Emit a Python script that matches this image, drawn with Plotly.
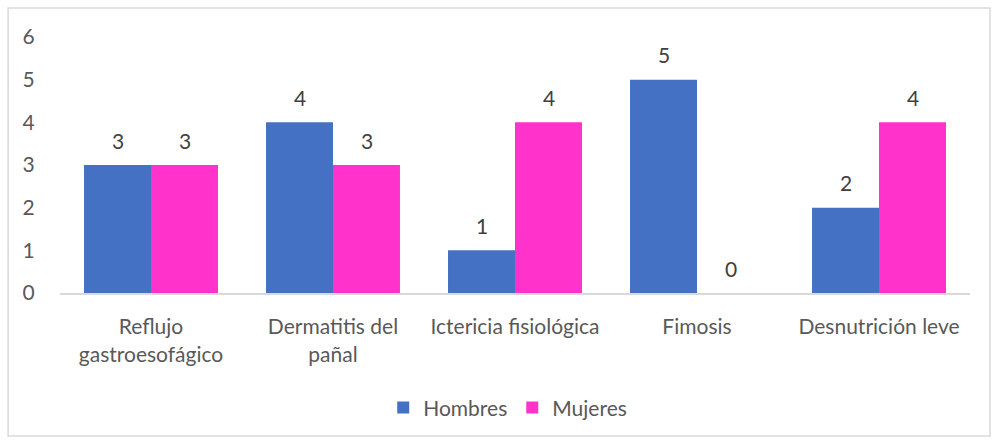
import plotly.graph_objects as go

categories = ["Reflujo<br>gastroesofágico", "Dermatitis del<br>pañal", "Ictericia fisiológica", "Fimosis", "Desnutrición leve"]
hombres = [3, 4, 1, 5, 2]
mujeres = [3, 3, 4, 0, 4]
y_ticks = [0, 1, 2, 3, 4, 5, 6]

FONT = "Lato, 'Open Sans', sans-serif"
TXT = "#595959"
FS = 21

fig = go.Figure()
fig.add_trace(go.Bar(name="Hombres", x=categories, y=hombres,
                     marker=dict(color="#4571C4", line=dict(width=0))))
fig.add_trace(go.Bar(name="Mujeres", x=categories, y=mujeres,
                     marker=dict(color="#FF33CC", line=dict(width=0))))

annotations = []
for cat, h, m in zip(categories, hombres, mujeres):
    for val, shift in ((h, -33.5), (m, 33.5)):
        annotations.append(dict(x=cat, y=val, xref="x", yref="y", text=str(val),
                                showarrow=False, xshift=shift, yshift=25,
                                yanchor="middle",
                                font=dict(family=FONT, size=FS, color="#404040")))

fig.update_layout(
    width=992, height=442,
    margin=dict(l=60, r=22, t=37, b=149),
    paper_bgcolor="white", plot_bgcolor="white",
    barmode="group", bargap=0.264, bargroupgap=0,
    font=dict(family=FONT, size=FS, color=TXT),
    showlegend=True,
    legend=dict(orientation="h", x=0.492, xanchor="center", y=-0.449, yanchor="middle",
                font=dict(family=FONT, size=FS, color=TXT), itemwidth=30,
                traceorder="normal"),
    annotations=annotations,
    shapes=[dict(type="rect", xref="paper", yref="paper", x0=-0.057, x1=1.022,
                 y0=-0.559, y1=1.113, line=dict(color="#D9D9D9", width=1.5),
                 fillcolor="rgba(0,0,0,0)", layer="below")],
)
fig.update_yaxes(range=[0, 6], tickvals=y_ticks, showgrid=False, zeroline=False,
                 showline=False, ticks="outside", ticklen=20, tickcolor="rgba(0,0,0,0)",
                 tickfont=dict(family=FONT, size=FS, color=TXT))
fig.update_xaxes(showline=True, linecolor="#D9D9D9", linewidth=2, showgrid=False,
                 ticks="outside", ticklen=14, tickcolor="rgba(0,0,0,0)",
                 tickfont=dict(family=FONT, size=FS, color=TXT))

fig.write_html("out.html", config={"displayModeBar": False},
               post_script="document.body.style.margin='0';")
